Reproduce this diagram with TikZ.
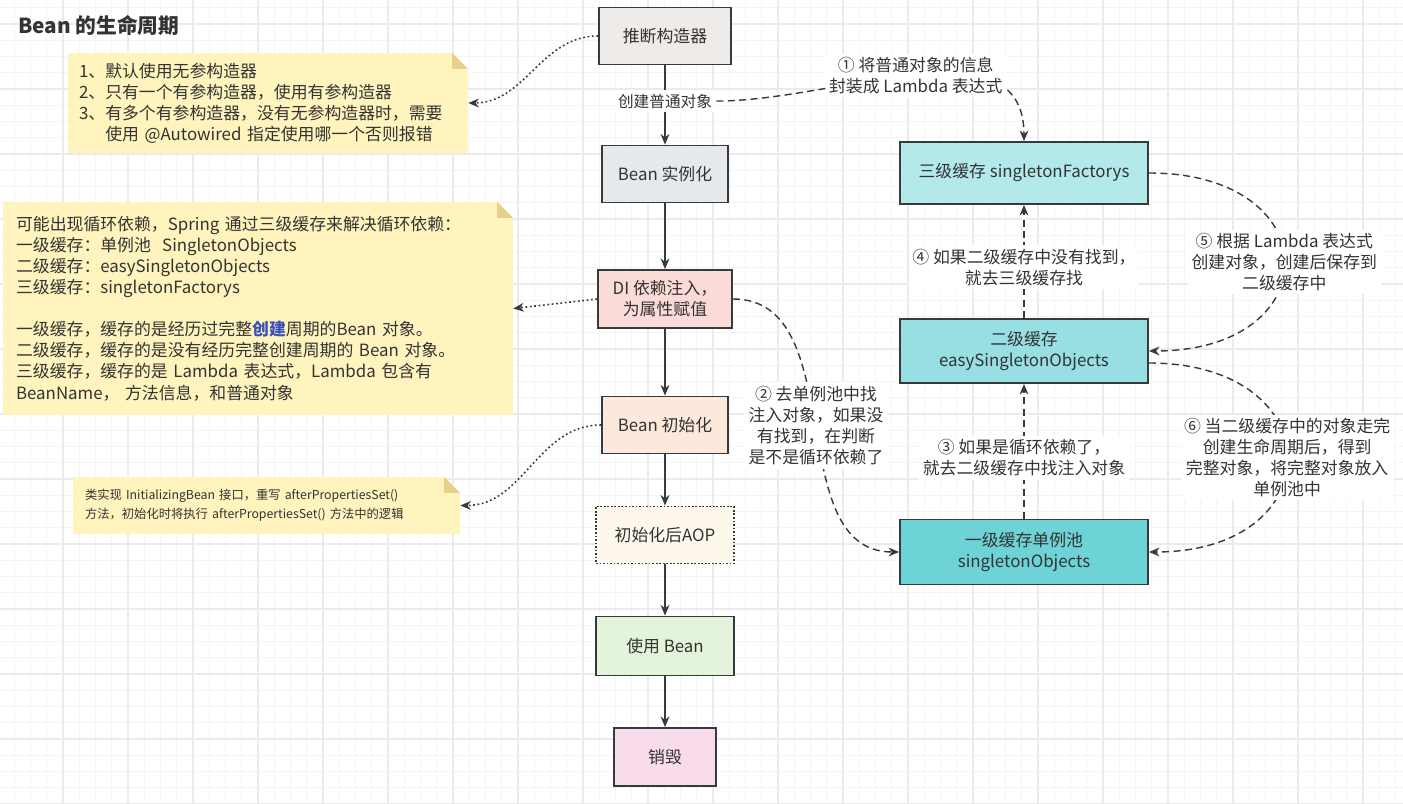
\documentclass[tikz,border=0pt]{standalone}
\usepackage{fontspec}
\setmainfont{Noto Sans CJK SC}
\usetikzlibrary{arrows.meta}
\definecolor{txt}{HTML}{333333}
\definecolor{edge}{HTML}{36393D}
\definecolor{gridminor}{HTML}{F4F4F4}
\definecolor{gridmajor}{HTML}{EBEBEB}
\definecolor{notebg}{HTML}{FFF4BD}
\definecolor{notefold}{HTML}{E6D08C}
\definecolor{hl}{HTML}{3B4FB8}
\definecolor{ctorfill}{HTML}{EEEBE9}
\definecolor{instfill}{HTML}{E6E9EC}
\definecolor{difill}{HTML}{FADBD8}
\definecolor{initfill}{HTML}{FCE9DB}
\definecolor{aopfill}{HTML}{FDF8EB}
\definecolor{usefill}{HTML}{E3F4DA}
\definecolor{endfill}{HTML}{F9DCEC}
\definecolor{lthree}{HTML}{B3E9EB}
\definecolor{ltwo}{HTML}{97DFE3}
\definecolor{lone}{HTML}{6DD3D6}

\begin{document}
\begin{tikzpicture}[x=0.02cm, y=0.02cm,
  every node/.style={text=txt, font=\fontsize{9.6}{12}\selectfont},
  stage/.style={draw=edge, line width=1.1pt, minimum width=2.52cm, minimum height=1.14cm, align=center},
  cache/.style={stage, minimum width=4.96cm, minimum height=1.28cm},
  note/.style={align=left, inner ysep=0.1cm, path picture={
    \fill[notebg] (path picture bounding box.south west) -- (path picture bounding box.north west)
      -- ([xshift=-9pt]path picture bounding box.north east) -- ([yshift=-9pt]path picture bounding box.north east)
      -- (path picture bounding box.south east) -- cycle;
    \fill[notefold] ([xshift=-9pt]path picture bounding box.north east) -- ([xshift=-9pt,yshift=-9pt]path picture bounding box.north east)
      -- ([yshift=-9pt]path picture bounding box.north east) -- cycle;}},
  lbl/.style={fill=white, align=center, inner sep=2pt},
  flow/.style={draw=edge, line width=1.1pt, -{Stealth[length=6pt, width=5pt]}},
  wrap/.style={draw=edge, line width=0.8pt, dash pattern=on 4pt off 2.5pt, -{Stealth[length=6pt, width=5pt]}},
  hint/.style={draw=edge, line width=0.9pt, dash pattern=on 1pt off 1.5pt, -{Stealth[length=6pt, width=5pt]}},
  minorgrid/.style={draw=gridminor, line width=0.6pt},
  majorgrid/.style={draw=gridmajor, line width=0.8pt}]
\fill[white] (0,0) rectangle (1403,-804);
\useasboundingbox (0,0) rectangle (1403,-804);
% grid paper
\foreach \k in {0,...,86}
  \draw[minorgrid] ({14.25+16.25*\k},0) -- ({14.25+16.25*\k},-804);
\foreach \k in {0,...,49}
  \draw[minorgrid] (0,{-7.75-16.25*\k}) -- (1403,{-7.75-16.25*\k});
\foreach \k in {1,...,21}
  \draw[majorgrid] ({-2+65*\k},0) -- ({-2+65*\k},-804);
\foreach \k in {0,...,12}
  \draw[majorgrid] (0,{-24-65*\k}) -- (1403,{-24-65*\k});

\node[anchor=west, font=\bfseries\fontsize{11.8}{14}\selectfont] (title) at (12,-25) {Bean 的生命周期};

% life cycle
\node[stage, fill=ctorfill, minimum width=2.64cm] (ctor) at (665,-36) {推断构造器};
\node[stage, fill=instfill] (inst) at (665,-174) {Bean 实例化};
\node[stage, fill=difill, minimum width=2.68cm, minimum height=1.16cm] (di) at (665,-299) {DI 依赖注入，\\为属性赋值};
\node[stage, fill=initfill] (init) at (665,-425) {Bean 初始化};
\node[stage, fill=aopfill, minimum width=2.76cm, dash pattern=on 1pt off 1pt] (aop) at (665,-535) {初始化后AOP};
\node[stage, fill=usefill, minimum width=2.76cm, minimum height=1.18cm] (use) at (665,-646) {使用 Bean};
\node[stage, fill=endfill, minimum width=2.04cm, minimum height=1.16cm] (destroy) at (665,-757) {销毁};

% caches
\node[cache, fill=lthree, minimum height=1.24cm] (l3) at (1024,-173) {三级缓存 singletonFactorys};
\node[cache, fill=ltwo] (l2) at (1024,-351) {二级缓存\\easySingletonObjects};
\node[cache, fill=lone, minimum height=1.3cm] (l1) at (1024,-552) {一级缓存单例池\\singletonObjects};

% notes
\node[note, text width=7.56cm, inner xsep=0.22cm, minimum height=2cm] (n1) at (268,-103)
  {\rule{0pt}{8pt}1、默认使用无参构造器\\2、只有一个有参构造器，使用有参构造器\\3、有多个有参构造器，没有无参构造器时，需要\\\hphantom{3、}使用 @Autowired 指定使用哪一个否则报错};
\node[note, text width=9.68cm, inner xsep=0.26cm, minimum height=4.26cm] (n2) at (258,-308.5)
  {可能出现循环依赖，Spring 通过三级缓存来解决循环依赖：\\一级缓存：单例池~~SingletonObjects\\二级缓存：easySingletonObjects\\三级缓存：singletonFactorys\\[12pt]
   一级缓存，缓存的是经历过完整{\bfseries\color{hl}创建}周期的Bean 对象。\\二级缓存，缓存的是没有经历完整创建周期的 Bean 对象。\\三级缓存，缓存的是 Lambda 表达式，Lambda 包含有\\BeanName，~方法信息，和普通对象};
\node[note, text width=7.26cm, inner xsep=0.24cm, minimum height=1.14cm, font=\fontsize{7}{10.6}\selectfont] (n3) at (266.5,-505.5)
  {类实现 InitializingBean 接口，重写 afterPropertiesSet()\\方法，初始化时将执行 afterPropertiesSet() 方法中的逻辑};

% main flow
\draw[flow] (ctor) -- node[lbl, pos=0.45, font=\fontsize{8.9}{11}\selectfont] (newobj) {创建普通对象} (inst);
\draw[flow] (inst) -- (di);
\draw[flow] (di) -- (init);
\draw[flow] (init) -- (aop);
\draw[flow] (aop) -- (use);
\draw[flow] (use) -- (destroy);

% hints to notes
\draw[hint] (ctor.west) to[out=180, in=0] (n1.east);
\draw[hint] (di.west) -- (n2.east);
\draw[hint] (init.west) to[out=180, in=0] (n3.east);

% three level cache
\draw[wrap] (newobj.east) to[out=0, in=90] node[lbl] {① 将普通对象的信息\\封装成 Lambda 表达式} (l3.north);
\draw[wrap] (di.east) to[out=0, in=180] node[lbl] {② 去单例池中找\\注入对象，如果没\\有找到，在判断\\是不是循环依赖了} (l1.west);
\draw[wrap] (l1) -- node[lbl, pos=0.45] {③ 如果是循环依赖了，\\就去二级缓存中找注入对象} (l2);
\draw[wrap] (l2) -- node[lbl, pos=0.45] {④ 如果二级缓存中没有找到，\\就去三级缓存找} (l3);
\draw[wrap] (l3.east) to[out=0, in=0, looseness=2.6] node[lbl] {⑤ 根据 Lambda 表达式\\创建对象，创建后保存到\\二级缓存中} (l2.east);
\draw[wrap] ([yshift=-0.24cm]l2.east) to[out=0, in=0, looseness=2.5] node[lbl] {⑥ 当二级缓存中的对象走完\\创建生命周期后，得到\\完整对象，将完整对象放入\\单例池中} (l1.east);
\end{tikzpicture}
\end{document}
